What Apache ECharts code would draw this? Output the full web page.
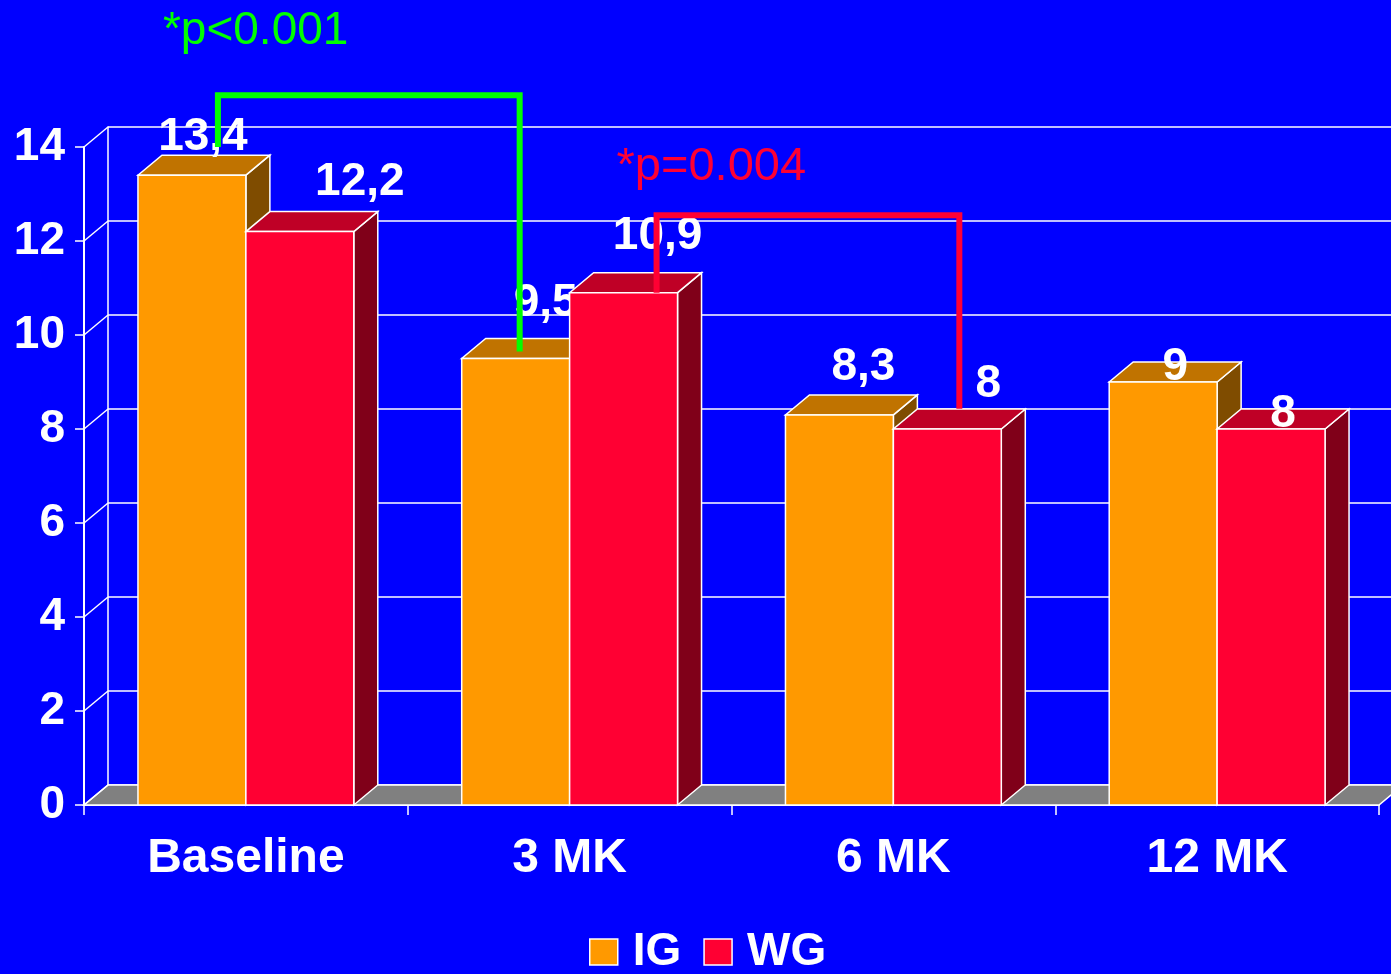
<!DOCTYPE html>
<html>
<head>
<meta charset="utf-8">
<script src="https://cdn.jsdelivr.net/npm/echarts@6/dist/echarts.min.js"></script>
<style>
  html, body { margin: 0; padding: 0; background: #0000ff; }
  #chart { width: 1391px; height: 974px; }
</style>
</head>
<body>
<div id="chart"></div>
<script>
// data
var categories = ["Baseline", "3 MK", "6 MK", "12 MK"];
var igValues = [13.4, 9.5, 8.3, 9];
var wgValues = [12.2, 10.9, 8, 8];
var yTicks = [0, 2, 4, 6, 8, 10, 12, 14];

// label nudges (px) from the centre of each bar's top face
var igLabelShift = [[-1, -18], [18, -35], [12, -28], [0, 5]];
var wgLabelShift = [[48, -29], [22, -36], [29, -25], [0, 5]];

// depth of the fake 3D
var DX = 24, DY = -20;
var FONT = "Liberation Sans, Arial, sans-serif";

var IG = { front: "#ff9900", top: "#c07300", side: "#7f4c00" };
var WG = { front: "#ff0033", top: "#bf0026", side: "#800019" };

var brackets = [
  { text: "*p<0.001", color: "#00ff00", size: 46, top: 15.1,
    from: { cat: 0, slot: 0, end: 14.0, dx: 26 },
    to: { cat: 1, slot: 0, end: 9.65, dx: 4 },
    textAt: [-55, -64] },
  { text: "*p=0.004", color: "#ff0033", size: 47, top: 12.55,
    from: { cat: 1, slot: 1, end: 10.9, dx: 33 },
    to: { cat: 2, slot: 1, end: 8.43, dx: 12 },
    textAt: [-40, -48] }
];

function barRenderer(slot, colors, shifts) {
  return function (params, api) {
    var cat = api.value(0), val = api.value(1);
    var c = api.coord([cat, val]);
    var base = api.coord([cat, 0]);
    var w = api.size([1, 0])[0] / 3;
    var x0 = c[0] - w + slot * w, x1 = x0 + w;
    var yT = c[1], yB = base[1];
    var line = { stroke: "#ffffff", lineWidth: 1.5 };
    var sh = shifts[params.dataIndex];
    return {
      type: "group",
      children: [
        { type: "polygon", shape: { points: [[x1, yT], [x1 + DX, yT + DY], [x1 + DX, yB + DY], [x1, yB]] },
          style: Object.assign({ fill: colors.side }, line) },
        { type: "polygon", shape: { points: [[x0, yT], [x1, yT], [x1 + DX, yT + DY], [x0 + DX, yT + DY]] },
          style: Object.assign({ fill: colors.top }, line) },
        { type: "rect", shape: { x: x0, y: yT, width: w, height: yB - yT },
          style: Object.assign({ fill: colors.front }, line) },
        { type: "text", x: (x0 + x1) / 2 + DX / 2 + sh[0], y: yT + DY + sh[1],
          style: { text: String(val).replace(".", ","), fill: "#ffffff",
            font: "bold 46px " + FONT, align: "center", verticalAlign: "middle" } }
      ]
    };
  };
}

function frameRenderer(params, api) {
  var cs = params.coordSys;
  var v = api.value(0);
  var y = api.coord([0, v])[1];
  var children = [
    { type: "line", shape: { x1: cs.x, y1: y, x2: cs.x + DX, y2: y + DY },
      style: { stroke: "#ffffff", lineWidth: 1.5 } }
  ];
  if (v === 0) {
    children.unshift({
      type: "polygon",
      shape: { points: [[cs.x, y], [cs.x + cs.width, y], [cs.x + cs.width + DX, y + DY], [cs.x + DX, y + DY]] },
      style: { fill: "#808080", stroke: "#ffffff", lineWidth: 1.5 }
    });
  }
  return { type: "group", children: children };
}

var chart = echarts.init(document.getElementById("chart"));

var option = {
  backgroundColor: "#0000ff",
  animation: false,
  grid: [
    { left: 84, right: 12, top: 147, bottom: 169 },
    { left: 84 + DX, right: 12 - DX, top: 147 + DY, bottom: 169 - DY }
  ],
  xAxis: [
    { type: "category", gridIndex: 0, data: categories,
      axisLine: { lineStyle: { color: "#ffffff", width: 2 } },
      axisTick: { show: true, length: 10, lineStyle: { color: "#ffffff", width: 1.5 } },
      axisLabel: { color: "#ffffff", fontSize: 48, fontWeight: "bold", fontFamily: FONT, margin: 30 },
      splitLine: { show: false } },
    { type: "category", gridIndex: 1, data: categories, show: false }
  ],
  yAxis: [
    { type: "value", gridIndex: 0, min: 0, max: 14, interval: 2,
      axisLine: { show: true, lineStyle: { color: "#ffffff", width: 2 } },
      axisTick: { show: true, length: 9, lineStyle: { color: "#ffffff", width: 1.5 } },
      axisLabel: { color: "#ffffff", fontSize: 46, fontWeight: "bold", fontFamily: FONT, margin: 19 },
      splitLine: { show: false } },
    { type: "value", gridIndex: 1, min: 0, max: 14, interval: 2,
      axisLine: { show: true, lineStyle: { color: "#ffffff", width: 1.5 } },
      axisTick: { show: false },
      axisLabel: { show: false },
      splitLine: { show: true, lineStyle: { color: "#ffffff", width: 1.5 } } }
  ],
  legend: {
    left: 589, top: 929, padding: 0,
    itemWidth: 28, itemHeight: 26, itemGap: 22,
    icon: "rect",
    itemStyle: { borderColor: "#ffffff", borderWidth: 1.5 },
    textStyle: { color: "#ffffff", fontSize: 46, fontWeight: "bold", fontFamily: FONT, padding: [0, 0, 0, 10] },
    data: ["IG", "WG"]
  },
  series: [
    { type: "custom", name: "frame", xAxisIndex: 0, yAxisIndex: 0,
      data: yTicks.map(function (t) { return [t]; }),
      encode: { y: 0 }, renderItem: frameRenderer, silent: true },
    { type: "custom", name: "IG", xAxisIndex: 0, yAxisIndex: 0,
      itemStyle: { color: IG.front },
      data: igValues.map(function (v, i) { return [i, v]; }),
      encode: { x: 0, y: 1 }, renderItem: barRenderer(0, IG, igLabelShift) },
    { type: "custom", name: "WG", xAxisIndex: 0, yAxisIndex: 0,
      itemStyle: { color: WG.front },
      data: wgValues.map(function (v, i) { return [i, v]; }),
      encode: { x: 0, y: 1 }, renderItem: barRenderer(1, WG, wgLabelShift) }
  ]
};

chart.setOption(option);

// significance brackets, placed from the data coordinates
var band = chart.convertToPixel({ xAxisIndex: 0 }, 1) - chart.convertToPixel({ xAxisIndex: 0 }, 0);
var barW = band / 3;
function px(end, v) {
  var cx = chart.convertToPixel({ xAxisIndex: 0 }, end.cat);
  return [cx + (end.slot - 0.5) * barW + end.dx, chart.convertToPixel({ yAxisIndex: 0 }, v)];
}
var graphics = [];
brackets.forEach(function (b) {
  var a0 = px(b.from, b.from.end), a1 = px(b.from, b.top);
  var b1 = px(b.to, b.top), b0 = px(b.to, b.to.end);
  graphics.push({
    type: "polyline", z: 100,
    shape: { points: [a0, a1, b1, b0] },
    style: { stroke: b.color, lineWidth: 6, fill: null, lineJoin: "miter" }
  });
  graphics.push({
    type: "text", z: 100, x: a1[0] + b.textAt[0], y: a1[1] + b.textAt[1],
    style: { text: b.text, fill: b.color, font: b.size + "px " + FONT, verticalAlign: "middle" }
  });
});
chart.setOption({ graphic: graphics });
</script>
</body>
</html>
